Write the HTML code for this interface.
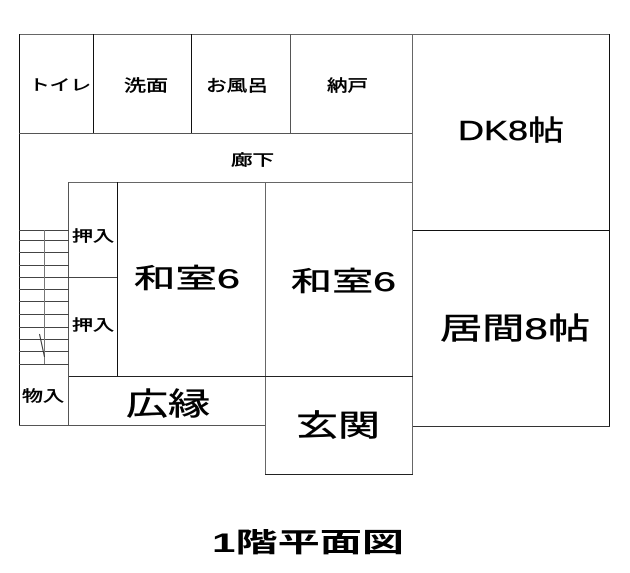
<!DOCTYPE html>
<html><head><meta charset="utf-8">
<style>
html,body{margin:0;padding:0;background:#fff;}
svg{display:block;}
text{font-family:"Liberation Sans","Noto Sans CJK JP",sans-serif;fill:#000;stroke:#000;stroke-width:0.45;}
</style></head>
<body>
<svg width="630" height="573" viewBox="0 0 630 573" xmlns="http://www.w3.org/2000/svg">
<g stroke-width="1" shape-rendering="crispEdges" fill="none">
<!-- outer -->
<line x1="19" y1="34.5" x2="610" y2="34.5" stroke="#666"/>
<line x1="19.5" y1="34" x2="19.5" y2="426" stroke="#111"/>
<line x1="609.5" y1="34" x2="609.5" y2="427" stroke="#111"/>
<line x1="19" y1="425.5" x2="266" y2="425.5" stroke="#555"/>
<line x1="413" y1="426.5" x2="610" y2="426.5" stroke="#333"/>
<!-- top rooms -->
<line x1="93.5" y1="34" x2="93.5" y2="133" stroke="#111"/>
<line x1="191.5" y1="34" x2="191.5" y2="133" stroke="#111"/>
<line x1="290.5" y1="34" x2="290.5" y2="133" stroke="#555"/>
<line x1="19" y1="133.5" x2="413" y2="133.5" stroke="#555"/>
<line x1="412.5" y1="34" x2="412.5" y2="475" stroke="#666"/>
<line x1="413" y1="230.5" x2="610" y2="230.5" stroke="#111"/>
<!-- inner block -->
<line x1="69" y1="182.5" x2="413" y2="182.5" stroke="#666"/>
<line x1="68.5" y1="182" x2="68.5" y2="426" stroke="#555"/>
<line x1="117.5" y1="182" x2="117.5" y2="377" stroke="#111"/>
<line x1="69" y1="277.5" x2="117" y2="277.5" stroke="#444"/>
<line x1="265.5" y1="182" x2="265.5" y2="475" stroke="#666"/>
<line x1="69" y1="376.5" x2="413" y2="376.5" stroke="#222"/>
<line x1="265" y1="474.5" x2="413" y2="474.5" stroke="#222"/>
<!-- stairs -->
<g stroke="#444">
<line x1="19" y1="230.5" x2="69" y2="230.5"/>
<line x1="19" y1="240.5" x2="69" y2="240.5"/>
<line x1="19" y1="252.5" x2="69" y2="252.5"/>
<line x1="19" y1="265.5" x2="69" y2="265.5"/>
<line x1="19" y1="277.5" x2="69" y2="277.5"/>
<line x1="19" y1="289.5" x2="69" y2="289.5"/>
<line x1="19" y1="301.5" x2="69" y2="301.5"/>
<line x1="19" y1="314.5" x2="69" y2="314.5"/>
<line x1="19" y1="327.5" x2="69" y2="327.5"/>
<line x1="19" y1="339.5" x2="69" y2="339.5"/>
<line x1="19" y1="351.5" x2="69" y2="351.5"/>
<line x1="19" y1="364.5" x2="69" y2="364.5"/>
<line x1="44.5" y1="230" x2="44.5" y2="364" stroke="#777"/>
</g>
<line x1="39.5" y1="334" x2="44.5" y2="357" stroke="#333" shape-rendering="auto"/>
</g>
<!-- labels -->
<text x="29" y="90" font-size="15" textLength="62" lengthAdjust="spacingAndGlyphs">トイレ</text>
<text x="124" y="91" font-size="16" textLength="44" lengthAdjust="spacingAndGlyphs">洗面</text>
<text x="206" y="91" font-size="16" textLength="62" lengthAdjust="spacingAndGlyphs">お風呂</text>
<text x="327" y="91" font-size="16" textLength="41" lengthAdjust="spacingAndGlyphs">納戸</text>
<text x="231" y="165" font-size="15" textLength="43" lengthAdjust="spacingAndGlyphs">廊下</text>
<text x="458" y="140" font-size="28" textLength="106" lengthAdjust="spacingAndGlyphs">DK8帖</text>
<text x="72" y="241" font-size="15" textLength="42" lengthAdjust="spacingAndGlyphs">押入</text>
<text x="72" y="330" font-size="15" textLength="42" lengthAdjust="spacingAndGlyphs">押入</text>
<text x="134" y="288" font-size="27" textLength="106" lengthAdjust="spacingAndGlyphs">和室6</text>
<text x="291" y="291" font-size="27" textLength="105" lengthAdjust="spacingAndGlyphs">和室6</text>
<text x="440" y="339" font-size="30" textLength="150" lengthAdjust="spacingAndGlyphs">居間8帖</text>
<text x="296" y="436" font-size="30" textLength="84" lengthAdjust="spacingAndGlyphs">玄関</text>
<text x="126" y="415" font-size="31" textLength="84" lengthAdjust="spacingAndGlyphs">広縁</text>
<text x="22" y="401" font-size="15" textLength="42" lengthAdjust="spacingAndGlyphs">物入</text>
<text x="212" y="552" font-size="27" font-weight="bold" style="stroke-width:0" textLength="192" lengthAdjust="spacingAndGlyphs">1階平面図</text>
</svg>
</body></html>
